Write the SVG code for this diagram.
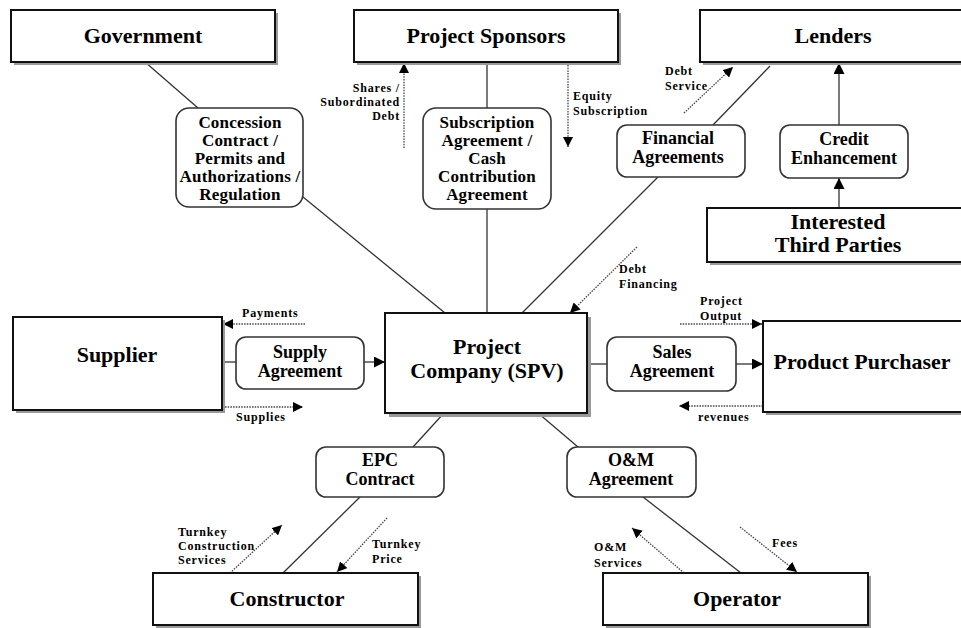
<svg xmlns="http://www.w3.org/2000/svg" width="961" height="628" viewBox="0 0 961 628">
<defs>
<style>
.box{fill:#fff;stroke:#111;stroke-width:2}
.sh{fill:#9a9a9a}
.rbox{fill:#fff;stroke:#333;stroke-width:1.6}
.t{font-family:"Liberation Serif","Times New Roman",serif;font-weight:bold;fill:#000}
.big{font-size:22px;text-anchor:middle}
.mid{font-size:18px;text-anchor:middle}
.mid5{font-size:17px;text-anchor:middle;letter-spacing:0.2px}
.sm{font-size:12px;letter-spacing:0.8px}
.ln{stroke:#333;stroke-width:1.3;fill:none}
.dot{stroke:#444;stroke-width:1.3;stroke-dasharray:1.5 1.2;fill:none}
</style>
<marker id="ah" viewBox="0 0 10 10" refX="10" refY="5" markerWidth="10" markerHeight="10" markerUnits="userSpaceOnUse" orient="auto">
<path d="M0,0 L10,5 L0,10 z" fill="#000"/>
</marker>
<marker id="ahs" viewBox="0 0 10 10" refX="10" refY="5" markerWidth="11" markerHeight="11" markerUnits="userSpaceOnUse" orient="auto">
<path d="M0,0 L10,5 L0,10 z" fill="#000"/>
</marker>
</defs>
<rect width="961" height="628" fill="#fff"/>

<g id="connectors">
<line class="ln" x1="145" y1="62" x2="198" y2="108"/>
<line class="ln" x1="303" y1="197" x2="445" y2="313"/>
<line class="ln" x1="487" y1="62" x2="487" y2="108"/>
<line class="ln" x1="487" y1="209" x2="487" y2="313"/>
<line class="ln" x1="770" y1="66" x2="713" y2="125"/>
<line class="ln" x1="658" y1="177" x2="522" y2="313"/>
<line class="ln" x1="839" y1="125" x2="839" y2="63" marker-end="url(#ahs)"/>
<line class="ln" x1="839" y1="208" x2="839" y2="178" marker-end="url(#ahs)"/>
<line class="ln" x1="222" y1="362" x2="236" y2="362"/>
<line class="ln" x1="364" y1="362" x2="385" y2="362" marker-end="url(#ahs)"/>
<line class="ln" x1="587" y1="364" x2="607" y2="364"/>
<line class="ln" x1="736" y1="364" x2="763" y2="364" marker-end="url(#ahs)"/>
<line class="ln" x1="444" y1="413" x2="413" y2="447"/>
<line class="ln" x1="360" y1="497" x2="283" y2="573"/>
<line class="ln" x1="538" y1="413" x2="578" y2="447"/>
<line class="ln" x1="643" y1="497" x2="741" y2="573"/>

<line class="dot" x1="404" y1="148" x2="404" y2="63" marker-end="url(#ah)"/>
<line class="dot" x1="568" y1="65" x2="568" y2="147" marker-end="url(#ah)"/>
<line class="dot" x1="684" y1="113" x2="733" y2="67" marker-end="url(#ah)"/>
<line class="dot" x1="637" y1="247" x2="570" y2="313" marker-end="url(#ah)"/>
<line class="dot" x1="305" y1="324" x2="223" y2="324" marker-end="url(#ah)"/>
<line class="dot" x1="225" y1="407" x2="303" y2="407" marker-end="url(#ah)"/>
<line class="dot" x1="680" y1="324" x2="762" y2="324" marker-end="url(#ah)"/>
<line class="dot" x1="763" y1="406" x2="679" y2="406" marker-end="url(#ah)"/>
<line class="dot" x1="230" y1="573" x2="282" y2="525" marker-end="url(#ah)"/>
<line class="dot" x1="387" y1="518" x2="337" y2="572" marker-end="url(#ah)"/>
<line class="dot" x1="684" y1="573" x2="632" y2="528" marker-end="url(#ah)"/>
<line class="dot" x1="740" y1="527" x2="797" y2="572" marker-end="url(#ah)"/>
</g>

<g id="flow-labels" class="t sm">
<text x="400" y="92" text-anchor="end">Shares /</text>
<text x="400" y="106" text-anchor="end">Subordinated</text>
<text x="400" y="120" text-anchor="end">Debt</text>
<text x="573" y="100">Equity</text>
<text x="573" y="115">Subscription</text>
<text x="665" y="75">Debt</text>
<text x="665" y="90">Service</text>
<text x="619" y="273">Debt</text>
<text x="619" y="288">Financing</text>
<text x="242" y="317">Payments</text>
<text x="236" y="421">Supplies</text>
<text x="700" y="305">Project</text>
<text x="700" y="320">Output</text>
<text x="698" y="421">revenues</text>
<text x="178" y="536">Turnkey</text>
<text x="178" y="550">Construction</text>
<text x="178" y="564">Services</text>
<text x="372" y="548">Turnkey</text>
<text x="372" y="563">Price</text>
<text x="594" y="551">O&amp;M</text>
<text x="594" y="567">Services</text>
<text x="772" y="547">Fees</text>
</g>

<g id="government">
<rect class="sh" x="14" y="13" width="264" height="52"/>
<rect class="box" x="11" y="10" width="264" height="52"/>
<text class="t big" x="143" y="43">Government</text>
</g>
<g id="project-sponsors">
<rect class="sh" x="357" y="13" width="264" height="52"/>
<rect class="box" x="354" y="10" width="264" height="52"/>
<text class="t big" x="486" y="43">Project Sponsors</text>
</g>
<g id="lenders">
<rect class="sh" x="703" y="13" width="270" height="52"/>
<rect class="box" x="700" y="10" width="270" height="52"/>
<text class="t big" x="833" y="43">Lenders</text>
</g>
<g id="interested-third-parties">
<rect class="sh" x="710" y="211" width="270" height="54"/>
<rect class="box" x="707" y="208" width="270" height="54"/>
<text class="t big" x="838" y="229">Interested</text>
<text class="t big" x="838" y="252">Third Parties</text>
</g>
<g id="supplier">
<rect class="sh" x="16" y="320" width="209" height="93"/>
<rect class="box" x="13" y="317" width="209" height="93"/>
<text class="t big" x="117" y="362">Supplier</text>
</g>
<g id="project-company">
<rect class="sh" x="389" y="317" width="202" height="100"/>
<rect class="box" x="385" y="313" width="202" height="100"/>
<text class="t big" x="487" y="354">Project</text>
<text class="t big" x="487" y="378">Company (SPV)</text>
</g>
<g id="product-purchaser">
<rect class="sh" x="766" y="324" width="210" height="91"/>
<rect class="box" x="763" y="321" width="210" height="91"/>
<text class="t big" x="862" y="369">Product Purchaser</text>
</g>
<g id="constructor">
<rect class="sh" x="156" y="576" width="265" height="52"/>
<rect class="box" x="153" y="573" width="265" height="52"/>
<text class="t big" x="287" y="606">Constructor</text>
</g>
<g id="operator">
<rect class="sh" x="606" y="576" width="265" height="52"/>
<rect class="box" x="603" y="573" width="265" height="52"/>
<text class="t big" x="737" y="606">Operator</text>
</g>

<g id="concession-contract">
<rect class="rbox" x="176" y="108" width="127" height="99" rx="13"/>
<text class="t mid5" x="240" y="128">Concession</text>
<text class="t mid5" x="240" y="146">Contract /</text>
<text class="t mid5" x="240" y="164">Permits and</text>
<text class="t mid5" x="240" y="182">Authorizations /</text>
<text class="t mid5" x="240" y="200">Regulation</text>
</g>
<g id="subscription-agreement">
<rect class="rbox" x="423" y="108" width="128" height="101" rx="13"/>
<text class="t mid5" x="487" y="128">Subscription</text>
<text class="t mid5" x="487" y="146">Agreement /</text>
<text class="t mid5" x="487" y="164">Cash</text>
<text class="t mid5" x="487" y="182">Contribution</text>
<text class="t mid5" x="487" y="200">Agreement</text>
</g>
<g id="financial-agreements">
<rect class="rbox" x="617" y="125" width="128" height="52" rx="10"/>
<text class="t mid" x="678" y="144">Financial</text>
<text class="t mid" x="678" y="163">Agreements</text>
</g>
<g id="credit-enhancement">
<rect class="rbox" x="780" y="125" width="128" height="53" rx="10"/>
<text class="t mid" x="844" y="145">Credit</text>
<text class="t mid" x="844" y="164">Enhancement</text>
</g>
<g id="supply-agreement">
<rect class="rbox" x="236" y="337" width="128" height="52" rx="10"/>
<text class="t mid" x="300" y="358">Supply</text>
<text class="t mid" x="300" y="377">Agreement</text>
</g>
<g id="sales-agreement">
<rect class="rbox" x="607" y="337" width="129" height="54" rx="10"/>
<text class="t mid" x="672" y="358">Sales</text>
<text class="t mid" x="672" y="377">Agreement</text>
</g>
<g id="epc-contract">
<rect class="rbox" x="316" y="447" width="128" height="50" rx="10"/>
<text class="t mid" x="380" y="466">EPC</text>
<text class="t mid" x="380" y="485">Contract</text>
</g>
<g id="om-agreement">
<rect class="rbox" x="567" y="447" width="129" height="50" rx="10"/>
<text class="t mid" x="631" y="466">O&amp;M</text>
<text class="t mid" x="631" y="485">Agreement</text>
</g>
</svg>
